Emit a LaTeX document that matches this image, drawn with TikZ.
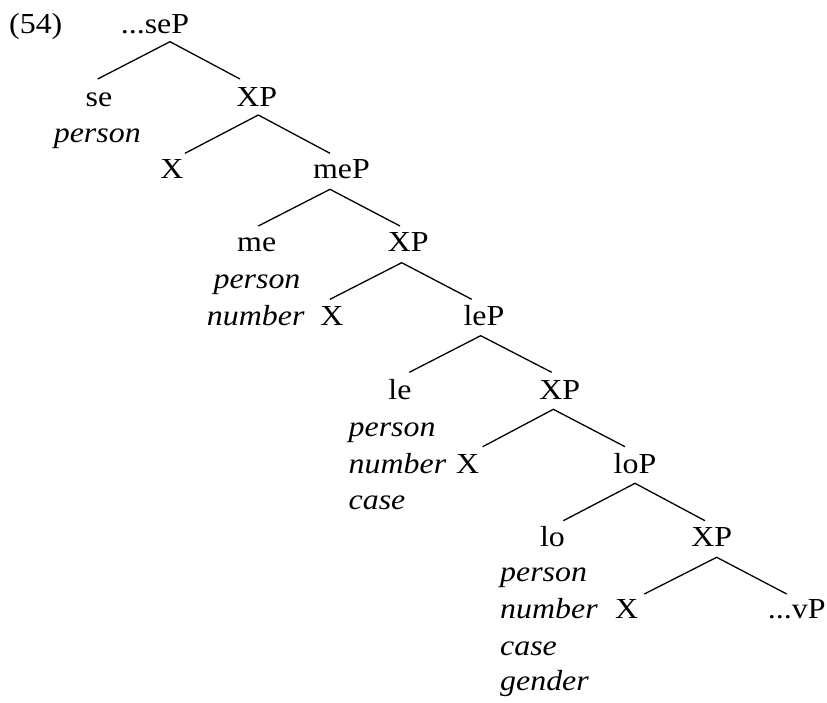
\documentclass[tikz,border=0pt]{standalone}
\usepackage{fontspec}
\setmainfont[FakeStretch=1.1]{Liberation Serif}
\begin{document}
\begin{tikzpicture}[x=1pt,y=-1pt,
  lab/.style={inner sep=0pt,anchor=base,font=\fontsize{29}{35}\selectfont},
  feat/.style={inner sep=0pt,anchor=base west,font=\fontsize{29}{35}\selectfont\itshape},
  featc/.style={inner sep=0pt,anchor=base,font=\fontsize{29}{35}\selectfont\itshape},
  branch/.style={line width=1.3pt}]
\useasboundingbox (0,0) rectangle (827,702);
% labels
\node[lab,anchor=base west] (ex) at (9,33) {(54)};
\node[lab] (seP) at (155,33) {...seP};
\node[lab] (se) at (99,106.7) {se};
\node[lab] (XPa) at (256.7,106.7) {XP};
\node[featc] (seF1) at (97.3,142) {person};
\node[lab] (Xa) at (172,178) {X};
\node[lab] (meP) at (341.5,178) {meP};
\node[lab] (me) at (256.7,251.7) {me};
\node[lab] (XPb) at (408.3,251.7) {XP};
\node[featc] (meF1) at (257,288.3) {person};
\node[featc] (meF2) at (255.7,325) {number};
\node[lab] (Xb) at (332,325) {X};
\node[lab] (leP) at (484,325) {leP};
\node[lab] (le) at (400,399) {le};
\node[lab] (XPc) at (559.7,399) {XP};
\node[feat] (leF1) at (348.5,436.7) {person};
\node[feat] (leF2) at (348.5,473.3) {number};
\node[feat] (leF3) at (348.5,509.3) {case};
\node[lab] (Xc) at (467.7,473.3) {X};
\node[lab] (loP) at (635,473.3) {loP};
\node[lab] (lo) at (552.5,546.7) {lo};
\node[lab] (XPd) at (711.7,546.7) {XP};
\node[feat] (loF1) at (500,581.7) {person};
\node[feat] (loF2) at (500,618) {number};
\node[feat] (loF3) at (500,655) {case};
\node[feat] (loF4) at (500,690) {gender};
\node[lab] (Xd) at (626.7,618) {X};
\node[lab] (vP) at (796.7,618) {...vP};
% branch points
\coordinate (a1) at (170,41.7);   \coordinate (l1) at (97.7,79);   \coordinate (r1) at (240,79);
\coordinate (a2) at (258.3,115);  \coordinate (l2) at (185,153.3); \coordinate (r2) at (330,153.3);
\coordinate (a3) at (330,189.3);  \coordinate (l3) at (258.3,226); \coordinate (r3) at (400,226);
\coordinate (a4) at (401.7,262.7);\coordinate (l4) at (330,299.3); \coordinate (r4) at (471.7,299.3);
\coordinate (a5) at (480.7,335.7);\coordinate (l5) at (409.3,372.3);\coordinate (r5) at (551.7,372.3);
\coordinate (a6) at (553.3,409.3);\coordinate (l6) at (482.7,446.7);\coordinate (r6) at (625,446.7);
\coordinate (a7) at (635,483.3);  \coordinate (l7) at (563.3,520.7);\coordinate (r7) at (705,520.7);
\coordinate (a8) at (716.7,557.3);\coordinate (l8) at (644.3,594); \coordinate (r8) at (786.7,594);
\foreach \i in {1,...,8}{
  \draw[branch] (l\i) -- (a\i) -- (r\i);
}
\end{tikzpicture}
\end{document}
